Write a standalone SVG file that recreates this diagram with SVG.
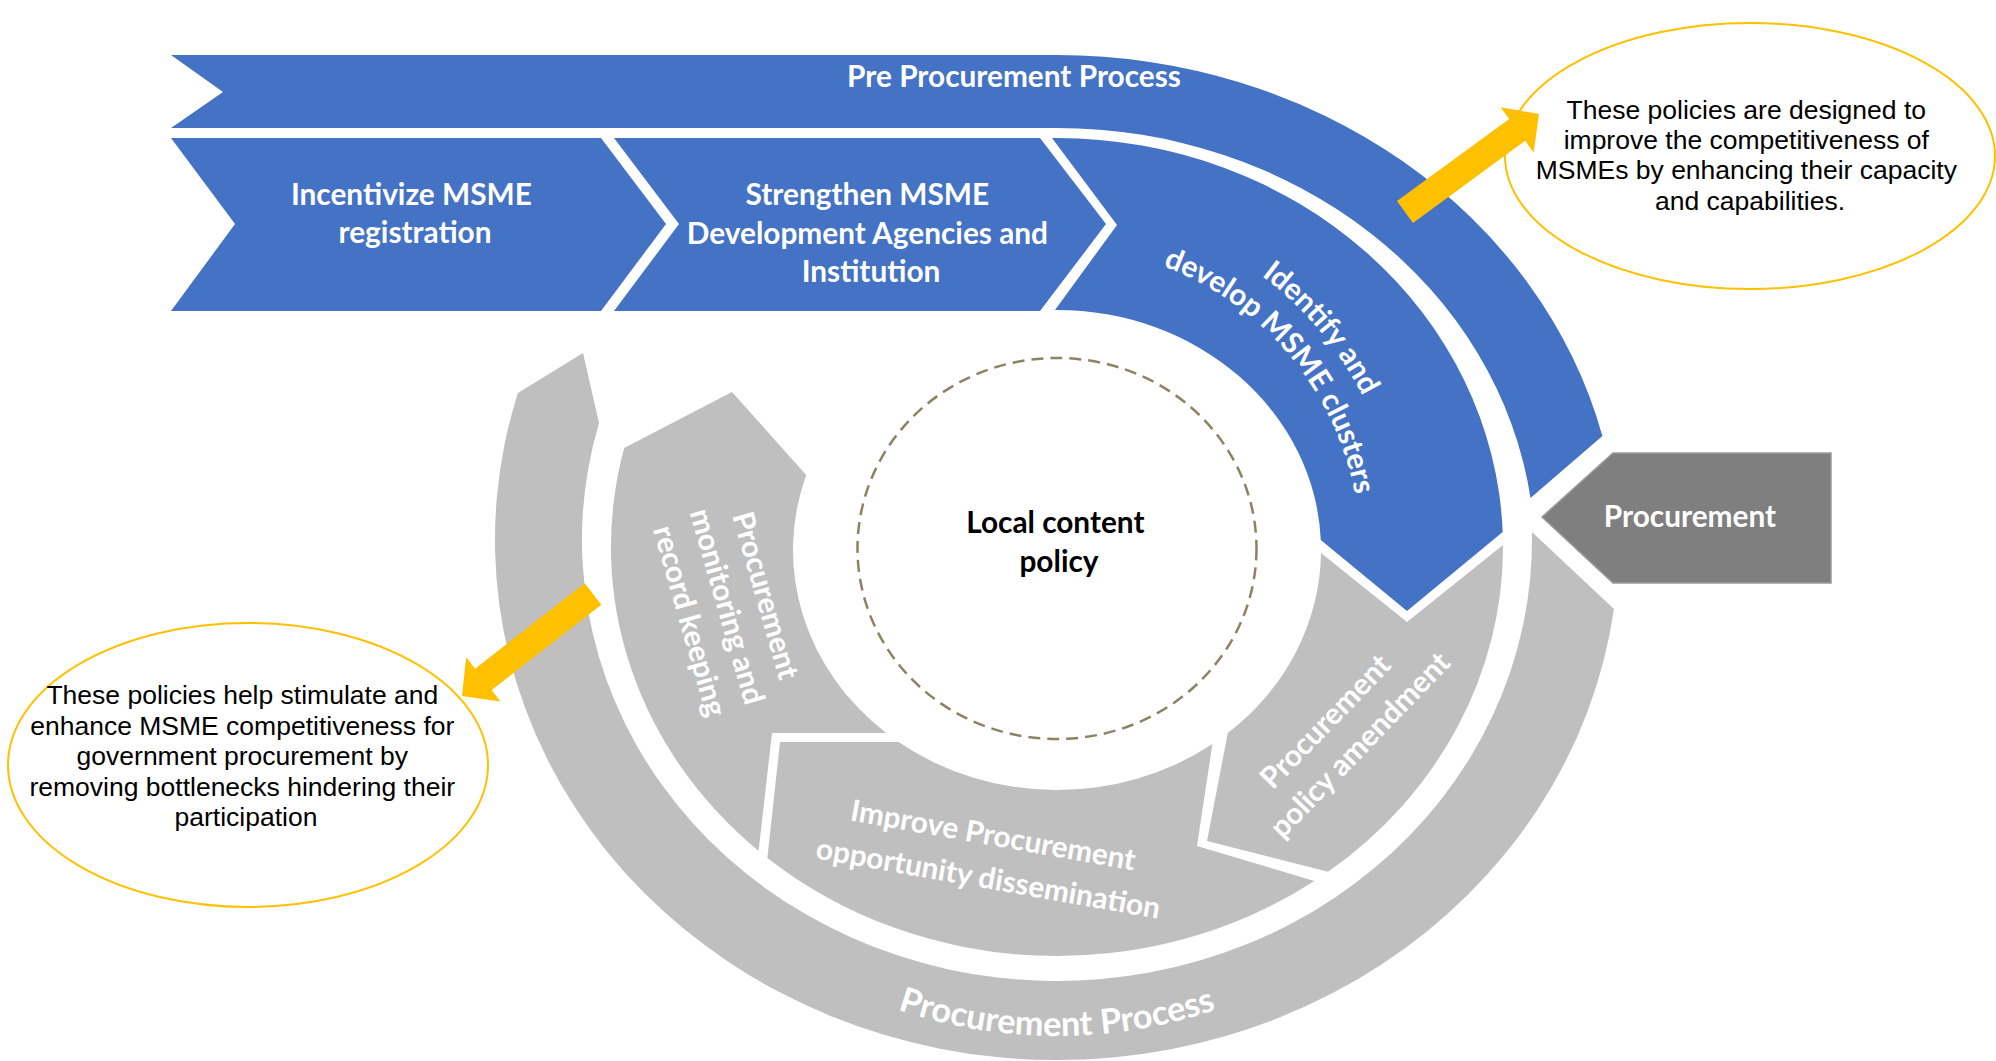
<svg xmlns="http://www.w3.org/2000/svg" width="1996" height="1061" viewBox="0 0 1996 1061">
  <style>
    .blue{fill:#4472C4}
    .gray{fill:#BFBFBF}
    .lbl{font-family:Lato,"Liberation Sans",sans-serif;font-weight:700;font-size:29.8px;fill:#fff;text-anchor:middle}
    .big{font-size:34.3px}
    .dark{fill:#000}
    .note{font-family:"Liberation Sans",Arial,sans-serif;font-size:26.5px;fill:#000;text-anchor:middle}
    .callout{fill:#fff;stroke:#FFC000;stroke-width:2}
    .arrow{fill:#FFC000}
  </style>
  <defs>
    <!-- block arrow pointing along +x, tail centred on the origin -->
    <path id="arrowShape" d="M0,-13.5 H139 V-28 L166,0 L139,28 V13.5 H0 Z"/>
    <!-- baselines for the curved labels -->
    <path id="arcIdentify1" d="M886,253.8 A342 342 0 0 1 1319,769.8"/>
    <path id="arcIdentify2" d="M905.5,287.6 A303 303 0 0 1 1289.1,744.8"/>
    <path id="arcProc" d="M590.9,709.6 A496 496 0 0 0 1523.1,709.6"/>
  </defs>

  <!-- callout notes -->
  <g id="note-right">
    <ellipse class="callout" cx="1750" cy="156" rx="245" ry="133"/>
    <text class="note">
      <tspan x="1750" y="118.6">These policies are designed to</tspan>
      <tspan x="1750" y="148.9">improve the competitiveness of</tspan>
      <tspan x="1750" y="179.2">MSMEs by enhancing their capacity</tspan>
      <tspan x="1750" y="209.5">and capabilities.</tspan>
    </text>
  </g>
  <g id="note-left">
    <ellipse class="callout" cx="248" cy="765" rx="240" ry="142"/>
    <text class="note">
      <tspan x="246" y="704">These policies help stimulate and</tspan>
      <tspan x="246" y="734.5">enhance MSME competitiveness for</tspan>
      <tspan x="246" y="765">government procurement by</tspan>
      <tspan x="246" y="795.5">removing bottlenecks hindering their</tspan>
      <tspan x="246" y="826">participation</tspan>
    </text>
  </g>

  <!-- outer ring: pre-procurement band -->
  <g id="pre-procurement">
    <path class="blue" d="M171,55 H1057 A562 502 0 0 1 1602.4,436 L1530.5,498 A478 429 0 0 0 1057,128 H171 L223,92 Z"/>
    <text class="lbl" x="1014" y="87">Pre Procurement Process</text>
  </g>

  <!-- outer ring: procurement band -->
  <g id="procurement-process">
    <path class="gray" d="M1531.9,532 L1614,609 A562 520 0 1 1 517.9,393 L583,353 L599,423 A475 441 0 1 0 1531.9,532 Z"/>
    <text class="lbl big"><textPath href="#arcProc" startOffset="50%">Procurement Process</textPath></text>
  </g>

  <!-- pre-procurement steps -->
  <g id="step-incentivize">
    <polygon class="blue" points="171,138 601,138 666,224 601,311 171,311 235,224"/>
    <text class="lbl">
      <tspan x="415" y="205">Incentivize MSME</tspan>
      <tspan x="415" y="243">registration</tspan>
    </text>
  </g>
  <g id="step-strengthen">
    <polygon class="blue" points="614,138 1040,138 1106,224 1040,311 614,311 679,224"/>
    <text class="lbl">
      <tspan x="871" y="205">Strengthen MSME</tspan>
      <tspan x="871" y="243.7">Development Agencies and</tspan>
      <tspan x="871" y="282.4">Institution</tspan>
    </text>
  </g>
  <g id="step-clusters">
    <path class="blue" d="M1052,138 H1057 A446 409 0 0 1 1502.7,532 L1407,611 L1320.8,540 A264 240 0 0 0 1057,310 H1055 L1117,225 Z"/>
    <text class="lbl"><textPath href="#arcIdentify1" startOffset="50%">Identify and</textPath></text>
    <text class="lbl"><textPath href="#arcIdentify2" startOffset="50%">develop MSME clusters</textPath></text>
  </g>

  <!-- procurement steps -->
  <g id="step-amendment">
    <path class="gray" d="M1321,553 L1407,622 L1503,545 A446 409 0 0 1 1328,871.8 L1207,841 L1227.8,733 A264 240 0 0 0 1321,553 Z"/>
    <text class="lbl" transform="translate(1344,732) rotate(-46)">
      <tspan x="-1.8" y="-10.5">Procurement</tspan>
      <tspan x="1.8" y="30.5">policy amendment</tspan>
    </text>
  </g>
  <g id="step-dissemination">
    <path class="gray" d="M898.6,742 A264 240 0 0 0 1212.4,744 L1197,846 L1314.4,881 A446 409 0 0 1 767.4,858 L780,742 Z"/>
    <text class="lbl" transform="translate(990.7,867.2) rotate(10)">
      <tspan x="0.5" y="-21.6">Improve Procurement</tspan>
      <tspan x="-0.4" y="21.7">opportunity dissemination</tspan>
    </text>
  </g>
  <g id="step-monitoring">
    <path class="gray" d="M806.2,475 L732,392 L624.2,448 A446 409 0 0 0 758.6,851 L772,733 L886.2,733 A264 240 0 0 1 806.2,475 Z"/>
    <text class="lbl" transform="translate(728,610) rotate(74)">
      <tspan x="0" y="-30">Procurement</tspan>
      <tspan x="0" y="10">monitoring and</tspan>
      <tspan x="0" y="50">record keeping</tspan>
    </text>
  </g>

  <!-- centre -->
  <g id="local-content">
    <ellipse cx="1057" cy="548.5" rx="199.5" ry="190.5" fill="none" stroke="#8C8264" stroke-width="2.5" stroke-dasharray="12 7"/>
    <text class="lbl dark">
      <tspan x="1059" y="533">Local content</tspan>
      <tspan x="1059" y="572">policy</tspan>
    </text>
  </g>

  <!-- procurement entry -->
  <g id="procurement">
    <polygon points="1542,517 1613,453 1831,453 1831,583 1613,583" fill="#7F7F7F" stroke="#9A9A9A" stroke-width="1.5"/>
    <text class="lbl" x="1690" y="527">Procurement</text>
  </g>

  <!-- callout pointers -->
  <g id="connectors">
    <use class="arrow" href="#arrowShape" transform="translate(1405,212) rotate(-36.2)"/>
    <use class="arrow" href="#arrowShape" transform="translate(593,594) rotate(142.1)"/>
  </g>
</svg>
